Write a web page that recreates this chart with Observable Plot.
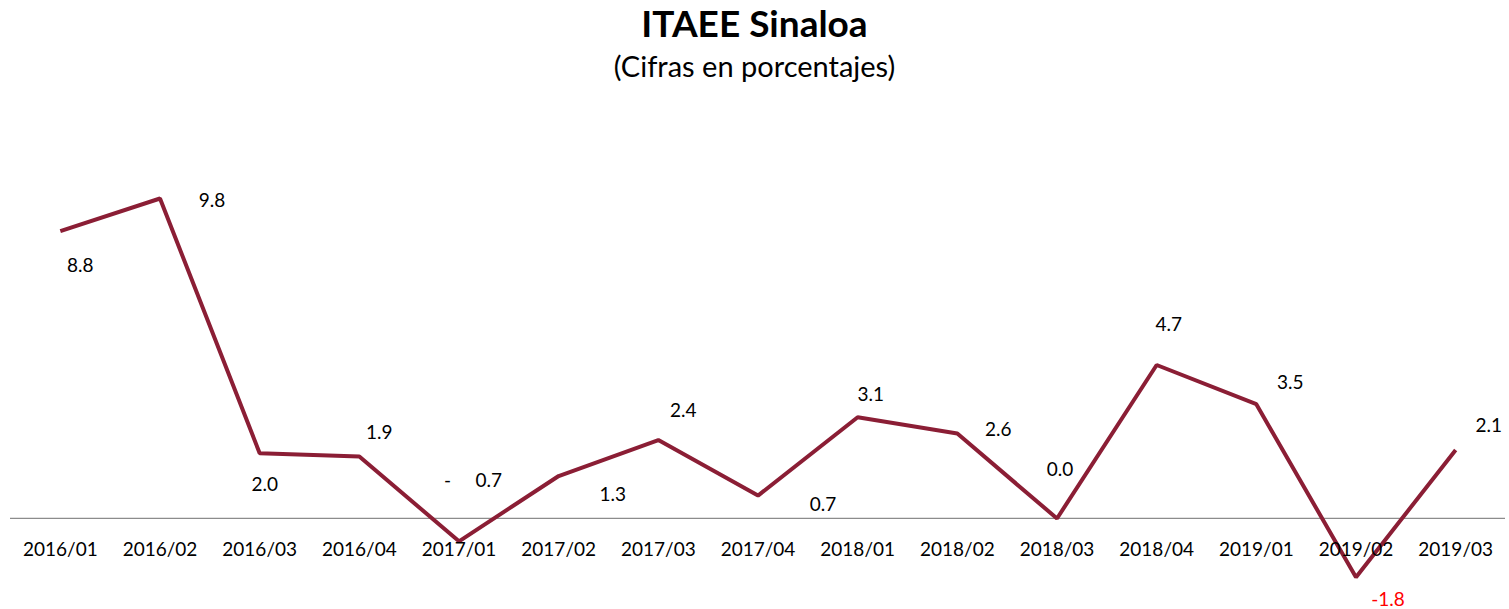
<!DOCTYPE html>
<html>
<head>
<meta charset="utf-8">
<script src="https://cdn.jsdelivr.net/npm/d3@7"></script>
<script src="https://cdn.jsdelivr.net/npm/@observablehq/plot@0.6"></script>
<style>
  html, body { margin: 0; padding: 0; background: #fff; }
  #header { position: relative; width: 1509px; height: 100px; font-family: Lato, "Open Sans", sans-serif; color: #000; }
  #title { position: absolute; top: 1px; left: 0; width: 1509px; text-align: center; font-size: 37px; font-weight: 700; line-height: 44px; }
  #subtitle { position: absolute; top: 48px; left: 0; width: 1509px; text-align: center; font-size: 29px; line-height: 36px; }
  #chart svg { display: block; }
</style>
</head>
<body>
<div id="header">
  <div id="title">ITAEE Sinaloa</div>
  <div id="subtitle">(Cifras en porcentajes)</div>
</div>
<div id="chart"></div>
<script>
const quarters = ["2016/01","2016/02","2016/03","2016/04","2017/01","2017/02","2017/03","2017/04","2018/01","2018/02","2018/03","2018/04","2019/01","2019/02","2019/03"];
const values = [8.8, 9.8, 2.0, 1.9, -0.7, 1.3, 2.4, 0.7, 3.1, 2.6, 0.0, 4.7, 3.5, -1.8, 2.1];
const labelText = ["8.8","9.8","2.0","1.9","-\u00a0\u00a0\u00a0\u00a0\u00a00.7","1.3","2.4","0.7","3.1","2.6","0.0","4.7","3.5","-1.8","2.1"];

// layout: label offsets (px) relative to each point
const labelOffsets = [[20,35],[52,2],[5,32],[20,-24],[14,-60],[54,19],[25,-29],[65,9],[13,-22],[41,-4],[3,-49],[12,-40],[34,-21],[32,23],[33,-24]];

const data = quarters.map((q, i) => ({q, v: values[i], t: labelText[i]}));
const lineColor = "#8B1E35";
const font = "Lato, 'Open Sans', sans-serif";

const labelMarks = data.map((d, i) => Plot.text([d], {
  x: "q", y: "v", text: "t",
  dx: labelOffsets[i][0], dy: labelOffsets[i][1],
  fill: d.v < -1 ? "#FF0000" : "#000",
  fontSize: 19, textAnchor: "middle"
}));

const plot = Plot.plot({
  width: 1509,
  height: 509,
  marginLeft: 10,
  marginRight: 4,
  marginTop: 58.8,
  marginBottom: 9.4,
  style: {fontFamily: font, background: "#fff", overflow: "visible"},
  x: {type: "band", domain: quarters, padding: 0, round: false, axis: null},
  y: {domain: [-2.5, 11], axis: null},
  marks: [
    Plot.ruleY([0], {stroke: "#8c8c8c", strokeWidth: 1.2}),
    Plot.line(data, {x: "q", y: "v", stroke: lineColor, strokeWidth: 4, strokeLinejoin: "miter", strokeLinecap: "butt"}),
    Plot.text(quarters, {x: d => d, y: () => 0, text: d => d, dy: 31, fontSize: 19, fill: "#000"}),
    ...labelMarks
  ]
});
document.getElementById("chart").appendChild(plot);
</script>
</body>
</html>
